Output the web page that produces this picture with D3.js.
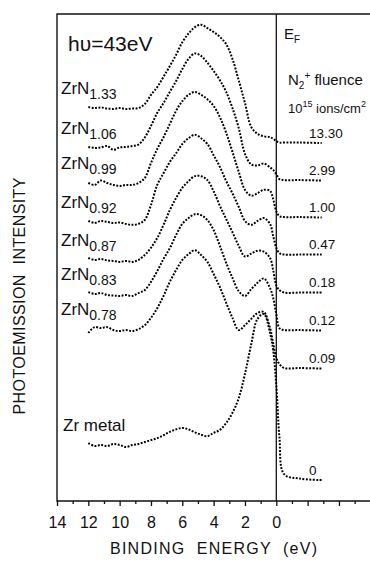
<!DOCTYPE html>
<html>
<head>
<meta charset="utf-8">
<script src="https://cdn.jsdelivr.net/npm/d3@7"></script>
<style>
  html, body { margin: 0; padding: 0; background: #fff; }
  svg { display: block; font-family: "Liberation Sans", Arial, sans-serif; }
</style>
</head>
<body>
<div id="chart"></div>
<script>
// binding energy grid (eV), shared by all spectra
const energies = [12, 11.6, 11.2, 10.8, 10.4, 10, 9.6, 9.2, 8.8, 8.4, 8, 7.6, 7.2, 6.8, 6.4, 6, 5.6, 5.2,
  4.8, 4.4, 4, 3.6, 3.2, 2.8, 2.4, 2, 1.6, 1.2, 0.8, 0.4, 0.2, 0, -0.2, -0.5, -1.5, -2.9];

// photoemission intensity (arb. units, spectra already offset as plotted)
const zrn133 = [80.9, 80.7, 80.8, 80.6, 80.5, 80.7, 80.5, 80.6, 80.7, 81.5, 83.4, 85.0, 87.1, 89.3, 91.6, 94.2, 96.0, 97.3,
  97.8, 97.1, 96.3, 95.3, 93.8, 90.8, 86.4, 81.7, 76.8, 75.4, 74.9, 74.7, 74.4, 73.9, 73.6, 73.6, 73.6, 73.5];
const zrn106 = [72.7, 72.5, 72.6, 72.9, 72.1, 72.6, 72.7, 72.9, 73.2, 74.6, 77.0, 79.7, 81.7, 84.0, 86.2, 88.7, 90.8, 91.9,
  91.4, 90.0, 88.3, 86.4, 84.0, 80.7, 76.6, 71.3, 69.1, 68.9, 69.3, 68.5, 68.0, 67.1, 66.1, 65.9, 65.9, 65.8];
const zrn099 = [65.3, 64.9, 65.8, 65.3, 64.9, 64.7, 64.9, 64.9, 65.3, 66.3, 69.4, 72.3, 74.7, 77.4, 80.1, 82.1, 83.4, 84.0,
  83.4, 82.5, 81.1, 78.8, 75.6, 71.7, 67.6, 63.9, 62.7, 63.2, 63.9, 63.7, 62.0, 59.5, 58.5, 58.3, 58.3, 58.2];
const zrn092 = [57.5, 57.1, 57.5, 57.3, 57.1, 57.2, 56.9, 56.7, 56.9, 57.7, 60.8, 64.9, 67.3, 69.6, 71.4, 73.3, 74.5, 75.2,
  74.5, 73.3, 71.0, 68.6, 65.7, 63.2, 60.4, 57.5, 56.7, 57.5, 58.1, 56.9, 54.4, 52.0, 50.9, 50.6, 50.6, 50.6];
const zrn087 = [49.9, 49.5, 49.7, 49.4, 49.3, 49.1, 49.3, 49.1, 49.5, 50.5, 52.0, 54.0, 56.7, 59.7, 62.2, 64.3, 65.7, 66.7,
  66.7, 65.9, 63.6, 60.6, 57.9, 55.2, 52.4, 50.2, 50.8, 51.4, 51.2, 49.9, 47.4, 44.3, 43.3, 42.8, 42.8, 42.8];
const zrn083 = [42.9, 42.5, 42.7, 42.3, 42.2, 42.1, 42.3, 42.1, 42.7, 43.3, 45.0, 47.2, 49.7, 51.9, 54.6, 56.9, 58.1, 58.9,
  58.7, 57.7, 55.6, 52.4, 48.9, 45.8, 43.1, 42.1, 43.5, 44.8, 45.7, 43.7, 41.7, 38.4, 35.5, 35.1, 35.1, 35.0];
const zrn078 = [34.5, 35.7, 35.5, 35.7, 35.1, 34.9, 35.1, 34.9, 35.3, 36.1, 37.6, 39.6, 42.1, 45.0, 47.4, 49.5, 50.7, 51.5,
  50.5, 49.1, 46.6, 43.9, 40.7, 37.6, 35.1, 36.1, 37.4, 38.6, 38.8, 35.5, 32.4, 29.4, 28.1, 27.3, 27.3, 27.2];
const zrMetal = [11.9, 11.3, 11.5, 11.3, 11.7, 11.5, 11.1, 11.5, 11.7, 12.1, 12.5, 12.9, 13.5, 14.2, 14.7, 15.0, 14.7, 14.1,
  13.6, 13.3, 14.0, 14.6, 16.0, 18.1, 21.1, 26.1, 32.2, 37.4, 38.4, 34.5, 31.0, 23.8, 13.1, 5.5, 4.6, 4.3];

const subscripts = ['1.33', '1.06', '0.99', '0.92', '0.87', '0.83', '0.78', null];
const fluences = ['13.30', '2.99', '1.00', '0.47', '0.18', '0.12', '0.09', '0'];
const seriesValues = [zrn133, zrn106, zrn099, zrn092, zrn087, zrn083, zrn078, zrMetal];

const xTickValues = d3.range(-6, 15);

const width = 370;
const height = 563;
const plot = { left: 57, right: 372, top: 14, bottom: 501 };

const x = d3.scaleLinear().domain([14, 0]).range([plot.left, 276.3]);
const y = d3.scaleLinear().domain([0, 100]).range([plot.bottom, plot.top]);

const svg = d3.select('#chart')
  .append('svg')
  .attr('width', width)
  .attr('height', height);

const ink = '#111';

// frame (no right side, it runs off the page)
svg.append('path')
  .attr('d', `M${plot.right},${plot.top}H${plot.left}V${plot.bottom}H${plot.right}`)
  .attr('fill', 'none')
  .attr('stroke', ink)
  .attr('stroke-width', 1.4);

// Fermi level
svg.append('line')
  .attr('x1', x(0)).attr('x2', x(0))
  .attr('y1', plot.top).attr('y2', plot.bottom)
  .attr('stroke', ink)
  .attr('stroke-width', 1.3);

// x axis
const axis = svg.append('g')
  .attr('transform', `translate(0,${plot.bottom})`)
  .call(d3.axisBottom(x)
    .tickValues(xTickValues)
    .tickSize(5)
    .tickPadding(11)
    .tickFormat((d) => (d >= 0 && d % 2 === 0 ? d : '')));

axis.select('.domain').remove();
axis.selectAll('.tick line')
  .attr('stroke', ink)
  .attr('stroke-width', 1.3)
  .attr('y2', (d) => (d % 2 === 0 ? 5 : 3));
axis.selectAll('.tick text')
  .attr('fill', ink)
  .style('font-family', '"Liberation Sans", Arial, sans-serif')
  .style('font-size', '16px');

svg.append('text')
  .attr('x', 213.5)
  .attr('y', 554)
  .attr('text-anchor', 'middle')
  .attr('fill', ink)
  .attr('font-size', 16)
  .attr('textLength', 207)
  .attr('lengthAdjust', 'spacing')
  .style('white-space', 'pre')
  .text('BINDING  ENERGY  (eV)');

svg.append('text')
  .attr('transform', 'translate(25,296) rotate(-90)')
  .attr('text-anchor', 'middle')
  .attr('fill', ink)
  .attr('font-size', 16)
  .attr('textLength', 237)
  .attr('lengthAdjust', 'spacing')
  .style('white-space', 'pre')
  .text('PHOTOEMISSION  INTENSITY');

// spectra, drawn as dotted traces
const line = d3.line()
  .x((d) => x(d[0]))
  .y((d) => y(d[1]))
  .curve(d3.curveCatmullRom.alpha(0.5));

svg.append('g')
  .selectAll('path')
  .data(seriesValues)
  .join('path')
  .attr('d', (vals) => line(vals.map((v, i) => [energies[i], v])))
  .attr('fill', 'none')
  .attr('stroke', '#000')
  .attr('stroke-width', 2)
  .attr('stroke-dasharray', '1.9 1.5');

// sample labels sit a little above each spectrum's low-energy-side background
const labels = svg.append('g').attr('fill', ink);
seriesValues.forEach((vals, i) => {
  const base = y(d3.mean(vals.slice(0, 5))) - 20 + 6;
  const t = labels.append('text')
    .attr('x', i === 7 ? 63 : 61)
    .attr('y', base)
    .attr('font-size', 17);
  if (subscripts[i]) {
    t.append('tspan').text('ZrN');
    t.append('tspan').attr('dy', 5).attr('font-size', 14).text(subscripts[i]);
  } else {
    t.text('Zr metal');
  }

  // fluence value above the flat tail beyond E_F
  const tail = vals[vals.length - 1];
  labels.append('text')
    .attr('x', 309)
    .attr('y', y(tail) - 10 + 4.6)
    .attr('font-size', 13.5)
    .text(fluences[i]);
});

svg.append('text')
  .attr('x', 68)
  .attr('y', 50.5)
  .attr('fill', ink)
  .attr('font-size', 21)
  .text('h\u03C5=43eV');

const ef = svg.append('text')
  .attr('x', 284)
  .attr('y', 38.5)
  .attr('fill', ink)
  .attr('font-size', 15);
ef.append('tspan').text('E');
ef.append('tspan').attr('dy', 4).attr('font-size', 10).text('F');

const n2 = svg.append('text')
  .attr('x', 288)
  .attr('y', 84.5)
  .attr('fill', ink)
  .attr('font-size', 15)
  .style('white-space', 'pre');
n2.append('tspan').text('N');
n2.append('tspan').attr('dy', 4).attr('font-size', 10).text('2');
n2.append('tspan').attr('dy', -10).attr('font-size', 10).text('+');
n2.append('tspan').attr('dy', 6).text(' fluence');

const units = svg.append('text')
  .attr('x', 288)
  .attr('y', 113)
  .attr('fill', ink)
  .attr('font-size', 13)
  .style('white-space', 'pre');
units.append('tspan').text('10');
units.append('tspan').attr('dy', -6).attr('font-size', 9).text('15');
units.append('tspan').attr('dy', 6).text(' ions/cm');
units.append('tspan').attr('dy', -6).attr('font-size', 9).text('2');
</script>
</body>
</html>
